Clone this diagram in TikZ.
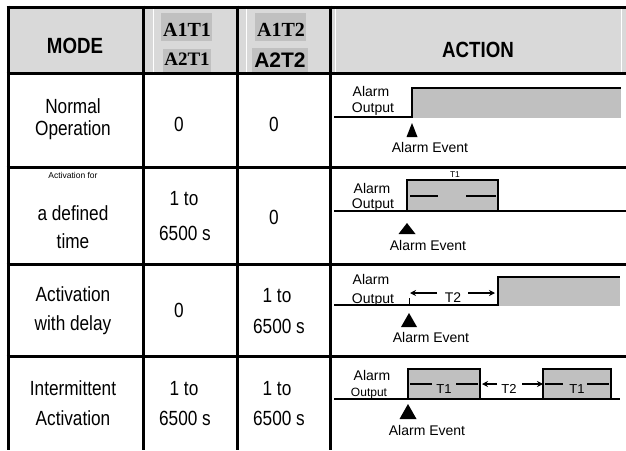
\documentclass[tikz,border=0pt]{standalone}
\usepackage{fontspec}
\setmainfont{Liberation Sans}
\newfontfamily\tnr{Liberation Serif}
\usetikzlibrary{arrows.meta}
\definecolor{hdr}{RGB}{217,217,217}
\definecolor{hl}{RGB}{192,192,192}
\newcommand{\nr}[1]{\scalebox{0.84}[1]{#1}}
\newcommand{\hr}[1]{\scalebox{0.85}[1]{#1}}
\begin{document}
\begin{tikzpicture}[x=1pt,y=-1pt,
  grid/.style={line width=3pt},
  wave/.style={line width=2.8pt, line join=miter},
  dsh/.style={line width=2.5pt},
  arr/.style={line width=2.5pt, -{Stealth[length=6pt,width=6pt]}},
  big/.style={anchor=base, inner sep=0pt, font=\fontsize{20.5}{24}\selectfont},
  head/.style={anchor=base, inner sep=0pt, font=\fontsize{22}{24}\selectfont\bfseries},
  lbl/.style={anchor=base, inner sep=0pt, font=\fontsize{14}{16}\selectfont},
  tiny/.style={anchor=base, inner sep=0pt, font=\fontsize{8.5}{10}\selectfont},
  evt/.style={fill=black}]
\useasboundingbox (0,0) rectangle (626,450);
% header background
\fill[hdr] (8,7) rectangle (626,73);
\draw[white, line width=1pt] (153,9) -- (153,72) (246,9) -- (246,72) (335,9) -- (335,72) (621,9) -- (621,72);
\fill[hl] (161,13) rectangle (212,41);
\fill[hl] (163,49) rectangle (211,72);
\fill[hl] (255,13) rectangle (306,41);
\fill[hl] (252,48) rectangle (308,72);
% header texts
\node[head] (mode) at (75,53) {\hr{MODE}};
\node[head] (action) at (478,57) {\hr{ACTION}};
\node[anchor=base, inner sep=0pt, font=\fontsize{20}{22}\selectfont\tnr\bfseries] (a1t1) at (187,36) {A1T1};
\node[anchor=base, inner sep=0pt, font=\fontsize{19}{22}\selectfont\tnr\bfseries] (a2t1) at (187,65) {A2T1};
\node[anchor=base, inner sep=0pt, font=\fontsize{20}{22}\selectfont\tnr\bfseries] (a1t2) at (281,36) {A1T2};
\node[anchor=base, inner sep=0pt, font=\fontsize{21}{22}\selectfont\bfseries] (a2t2) at (280,67) {A2T2};
% grid
\foreach \yy in {7,73,167,264,356} \draw[grid] (6.5,\yy) -- (626,\yy);
\foreach \xx in {8,143,237,330} \draw[grid] (\xx,5.5) -- (\xx,450);
% left column
\node[big] (m1a) at (73,113) {\nr{Normal}};
\node[big] (m1b) at (73,135) {\nr{Operation}};
\node[tiny] (m2a) at (73,178) {Activation for};
\node[big] (m2b) at (73,220) {\nr{a defined}};
\node[big] (m2c) at (73,248) {\nr{time}};
\node[big] (m3a) at (73,301) {\nr{Activation}};
\node[big] (m3b) at (73,330) {\nr{with delay}};
\node[big] (m4a) at (73,395) {\nr{Intermittent}};
\node[big] (m4b) at (73,425) {\nr{Activation}};
% column 2
\node[big] (c21) at (179,131) {\nr{0}};
\node[big] (c22a) at (184,205) {\nr{1 to}};
\node[big] (c22b) at (185,240) {\nr{6500 s}};
\node[big] (c23) at (179,317) {\nr{0}};
\node[big] (c24a) at (184,395) {\nr{1 to}};
\node[big] (c24b) at (185,425) {\nr{6500 s}};
% column 3
\node[big] (c31) at (274,131) {\nr{0}};
\node[big] (c32) at (274,224) {\nr{0}};
\node[big] (c33a) at (277,302) {\nr{1 to}};
\node[big] (c33b) at (279,333) {\nr{6500 s}};
\node[big] (c34a) at (277,395) {\nr{1 to}};
\node[big] (c34b) at (279,425) {\nr{6500 s}};
% ---- row 1 action
\fill[hl] (412,88) rectangle (621,118);
\draw[wave] (334,117) -- (412,117) -- (412,88) -- (621,88);
\node[lbl] (r1al) at (371,96) {Alarm};
\node[lbl] (r1ou) at (373,112) {Output};
\fill[evt] (412,123) -- (417.5,137) -- (406.5,137) -- cycle;
\node[lbl] (r1ev) at (430,152) {Alarm Event};
% ---- row 2 action
\fill[hl] (407,180) rectangle (498,211);
\draw[wave] (334,211) -- (626,211);
\draw[wave] (407,211) -- (407,180) -- (498,180) -- (498,211);
\draw[dsh] (410,196) -- (438,196) (466,196) -- (496,196);
\node[tiny] (r2t1) at (455,177) {T1};
\node[lbl] (r2al) at (372,193) {Alarm};
\node[lbl] (r2ou) at (373,208) {Output};
\fill[evt] (407,223) -- (415.5,234) -- (398.5,234) -- cycle;
\node[lbl] (r2ev) at (428,250) {Alarm Event};
% ---- row 3 action
\fill[hl] (498,277) rectangle (620,306);
\draw[wave] (334,305) -- (498,305) -- (498,277) -- (620,277);
\draw[arr] (437,293) -- (410,293);
\draw[arr] (468,293) -- (495,293);
\draw[line width=0.6pt] (409,298) -- (409,305);
\node[lbl] (r3t2) at (453,302) {T2};
\node[lbl] (r3al) at (371,284) {Alarm};
\node[lbl] (r3ou) at (373,303) {Output};
\fill[evt] (409,313) -- (417,327) -- (401,327) -- cycle;
\node[lbl] (r3ev) at (431,342) {Alarm Event};
% ---- row 4 action
\fill[hl] (408,369) rectangle (480,399);
\fill[hl] (543,369) rectangle (611,399);
\draw[wave] (334,399) -- (620,399);
\draw[wave] (408,399) -- (408,369) -- (480,369) -- (480,399);
\draw[wave] (543,399) -- (543,369) -- (611,369) -- (611,399);
\draw[dsh] (410,384) -- (432,384) (456,384) -- (478,384);
\draw[dsh] (545,384) -- (563,384) (587,384) -- (609,384);
\draw[arr] (497,384) -- (482,384);
\draw[arr] (522,384) -- (543,384);
\node[anchor=base, inner sep=0pt, font=\fontsize{13}{15}\selectfont] (r4t1a) at (444,393) {T1};
\node[anchor=base, inner sep=0pt, font=\fontsize{13}{15}\selectfont] (r4t2) at (509,393) {T2};
\node[anchor=base, inner sep=0pt, font=\fontsize{13}{15}\selectfont] (r4t1b) at (577,393) {T1};
\node[lbl] (r4al) at (372,380) {Alarm};
\node[anchor=base, inner sep=0pt, font=\fontsize{12}{14}\selectfont] (r4ou) at (369,396) {Output};
\fill[evt] (408,404) -- (416.5,419) -- (399.5,419) -- cycle;
\node[lbl] (r4ev) at (427,435) {Alarm Event};
\end{tikzpicture}
\end{document}
